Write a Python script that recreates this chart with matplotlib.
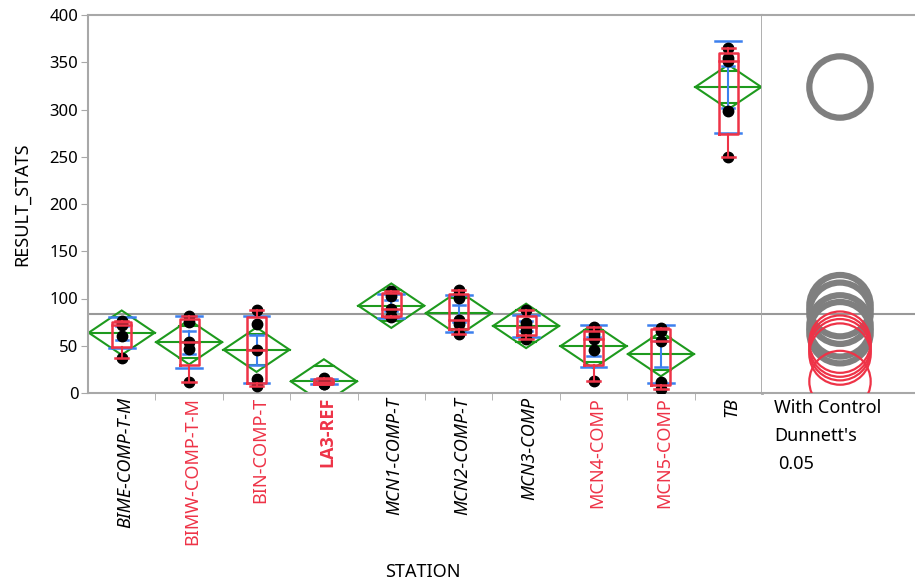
import numpy as np
import matplotlib
matplotlib.use("Agg")
import matplotlib.pyplot as plt
from matplotlib.patches import Polygon, Circle
from matplotlib import font_manager

stations = ["BIME-COMP-T-M", "BIMW-COMP-T-M", "BIN-COMP-T", "LA3-REF", "MCN1-COMP-T",
            "MCN2-COMP-T", "MCN3-COMP", "MCN4-COMP", "MCN5-COMP", "TB"]
values = [
    [76, 74, 72, 60, 37],
    [81, 75, 54, 47, 12],
    [88, 73, 46, 15, 7],
    [16, 14, 12, 10, 9],
    [108, 103, 89, 82, 80],
    [109, 101, 77, 73, 62],
    [88, 74, 70, 66, 57],
    [70, 62, 57, 46, 13],
    [69, 66, 55, 12, 4],
    [365, 355, 351, 298, 250],
]
control = "LA3-REF"
# 'sig' = significantly different from control (Dunnett's, alpha 0.05)
label_style = ["sig", "ns", "ns", "control", "sig", "sig", "sig", "ns", "ns", "sig"]
yticks = [0, 50, 100, 150, 200, 250, 300, 350, 400]
t_crit = 2.021      # t(0.975, df=40)
dunnett_q = 2.79    # Dunnett quantile, 9 comparisons, df=40

# choose fonts that really have bold / italic faces
candidates = ['Noto Sans', 'Open Sans', 'Lato', 'Liberation Sans', 'DejaVu Sans']
entries = font_manager.fontManager.ttflist
def pick(pred):
    for c in candidates:
        for e in entries:
            if e.name == c and pred(e):
                return c
    return 'DejaVu Sans'
base_font = pick(lambda e: True)
italic_font = pick(lambda e: e.style in ('italic', 'oblique') and (e.weight in (400, 'normal', 'regular')))
bold_font = pick(lambda e: isinstance(e.weight, (int, float)) and e.weight >= 600 and e.style == 'normal')
plt.rcParams['font.family'] = [base_font, 'DejaVu Sans']

RED = '#EE3347'
BLUE = '#3D80EE'
GREEN = '#1E9A1E'
GREY = '#A8A8A8'
CIRC_GREY = '#7F7F7F'
FS = 13

W, H = 915, 585
fig = plt.figure(figsize=(W / 100, H / 100), dpi=100)
left_px, right_px, top_px, bot_px = 88, 762, 15, 393
ax = fig.add_axes([left_px / W, 1 - bot_px / H, (right_px - left_px) / W, (bot_px - top_px) / H])
ax2 = fig.add_axes([right_px / W, 1 - bot_px / H, (W - right_px) / W, (bot_px - top_px) / H])

k = len(stations)
means = np.array([np.mean(v) for v in values])
sds = np.array([np.std(v, ddof=1) for v in values])
ns = np.array([len(v) for v in values])
sse = sum(((np.array(v) - np.mean(v)) ** 2).sum() for v in values)
dfe = ns.sum() - k
s_pooled = np.sqrt(sse / dfe)
grand_mean = np.mean(np.concatenate([np.array(v, float) for v in values]))

ax.set_xlim(-0.5, k - 0.5)
ax.set_ylim(0, 400)

# grand mean line
ax.axhline(grand_mean, color='#999999', lw=1.5, zorder=1)
ax2.axhline(grand_mean, color='#999999', lw=1.5, zorder=1)

dw = 0.98
for i, v in enumerate(values):
    v = np.array(v, float)
    m = means[i]
    ci = t_crit * s_pooled / np.sqrt(ns[i])
    half = dw / 2 * ns[i] / ns.max()
    diamond = Polygon([[i - half, m], [i, m + ci], [i + half, m], [i, m - ci]],
                      closed=True, fill=False, ec=GREEN, lw=1.5, zorder=2)
    ax.add_patch(diamond)
    ax.plot([i - half, i + half], [m, m], color=GREEN, lw=1.5, zorder=2)
    ov = ci / np.sqrt(2)
    ow = half * (1 - 1 / np.sqrt(2))
    for s in (1, -1):
        ax.plot([i - ow, i + ow], [m + s * ov, m + s * ov], color=GREEN, lw=1.5, zorder=2)
    # std dev lines (caps only)
    sdw = 0.19
    for y in (m - sds[i], m + sds[i]):
        ax.plot([i - sdw, i + sdw], [y, y], color=BLUE, lw=1.8, zorder=3)
    # mean error bars (std err)
    se = sds[i] / np.sqrt(ns[i])
    sew = 0.09
    ax.plot([i, i], [m - se, m + se], color=BLUE, lw=1.5, zorder=3)
    for y in (m - se, m + se):
        ax.plot([i - sew, i + sew], [y, y], color=BLUE, lw=1.8, zorder=3)
    # points
    ax.plot(np.full(len(v), i), v, 'o', color='black', ms=7.5, zorder=4)
    # box plot
    q1, med, q3 = np.percentile(v, [25, 50, 75], method='weibull')
    iqr = q3 - q1
    lo = v[v >= q1 - 1.5 * iqr].min()
    hi = v[v <= q3 + 1.5 * iqr].max()
    bw = 0.14
    ax.plot([i - bw, i + bw, i + bw, i - bw, i - bw], [q1, q1, q3, q3, q1], color=RED, lw=1.8, zorder=5)
    ax.plot([i - bw, i + bw], [med, med], color=RED, lw=1.8, zorder=5)
    ax.plot([i, i], [q3, hi], color=RED, lw=1.5, zorder=5)
    ax.plot([i, i], [lo, q1], color=RED, lw=1.5, zorder=5)
    cw = 0.1
    for y in (lo, hi):
        ax.plot([i - cw, i + cw], [y, y], color=RED, lw=1.8, zorder=5)

# axes styling
for a in (ax, ax2):
    a.set_facecolor('white')
    for sp in a.spines.values():
        sp.set_color(GREY)
        sp.set_linewidth(1.5)
ax.spines['right'].set_linewidth(2)
ax2.spines['right'].set_visible(False)
ax2.spines['left'].set_visible(False)

ax.set_yticks(yticks)
ax.set_yticklabels([str(t) for t in yticks])
ax.tick_params(axis='y', direction='out', length=5, color=GREY, labelsize=12, pad=2)
ax.set_xticks(np.arange(k - 1) + 0.5, minor=True)
ax.set_xticks(np.arange(k))
ax.set_xticklabels([])
ax.tick_params(axis='x', which='major', length=0)
ax.tick_params(axis='x', which='minor', direction='out', length=5, color=GREY)

for i, (name, st) in enumerate(zip(stations, label_style)):
    kw = dict(rotation=90, ha='center', va='top', fontsize=FS,
              transform=ax.get_xaxis_transform())
    if st == 'sig':
        kw.update(color='black', style='italic', family=[italic_font, 'DejaVu Sans'])
    elif st == 'control':
        kw.update(color=RED, weight='bold', family=[bold_font, 'DejaVu Sans'])
    else:
        kw.update(color=RED)
    ax.text(i + 0.05, -0.01, name, **kw)

ax.set_ylabel('RESULT_STATS', fontsize=FS, labelpad=13)
fig.text(423 / W, 1 - 572 / H, 'STATION', ha='center', va='center', fontsize=FS)

# comparison circles
ax2.set_ylim(0, 400)
xspan = 400 * (W - right_px) / (bot_px - top_px)
ax2.set_xlim(0, xspan)
ax2.set_xticks([])
ax2.set_yticks([])
cx = (840 - right_px) / (bot_px - top_px) * 400
radii = dunnett_q * s_pooled / np.sqrt(ns)
for i, st in enumerate(label_style):
    if st == 'sig':
        ax2.add_patch(Circle((cx, means[i]), radii[i], fill=False, ec=CIRC_GREY, lw=4.5, zorder=2))
for i, st in enumerate(label_style):
    if st != 'sig':
        ax2.add_patch(Circle((cx, means[i]), radii[i], fill=False, ec=RED, lw=1.6, zorder=3))

fig.text(774 / W, 1 - 408 / H, 'With Control', ha='left', va='center', fontsize=FS)
fig.text(774 / W, 1 - 436 / H, "Dunnett's", ha='left', va='center', fontsize=FS)
fig.text(778 / W, 1 - 464 / H, '0.05', ha='left', va='center', fontsize=FS)

fig.savefig('out.png', dpi=100)
